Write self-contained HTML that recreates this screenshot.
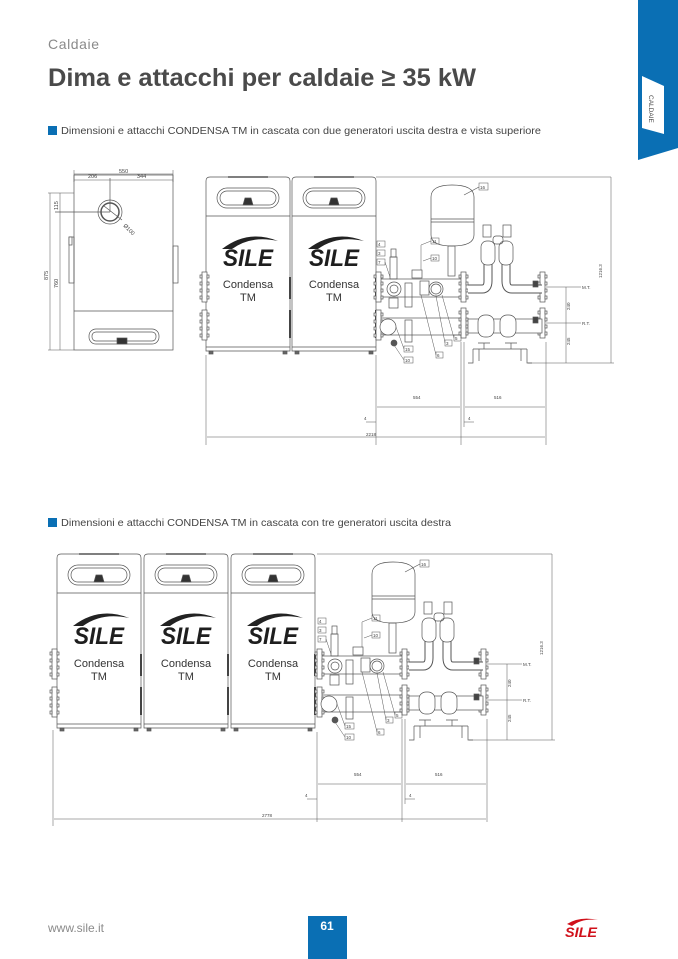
<!DOCTYPE html>
<html><head><meta charset="utf-8"><style>
html,body{margin:0;padding:0;background:#fff;}
svg{display:block;font-family:"Liberation Sans",sans-serif;}
</style></head><body>
<svg width="678" height="959" viewBox="0 0 678 959" xmlns="http://www.w3.org/2000/svg">
<defs>
<g id="boiler" fill="none" stroke="#555" stroke-width="0.7">
  <path d="M0,4 Q0,0 4,0 L80,0 Q84,0 84,4 L84,174 L0,174 Z" fill="#fff"/>
  <line x1="0" y1="39" x2="84" y2="39"/>
  <line x1="0" y1="170" x2="84" y2="170"/>
  <rect x="11" y="11" width="62" height="20" rx="10"/>
  <rect x="14" y="14" width="56" height="14" rx="7"/>
  <path d="M37,28 L39,21 L45,21 L47,28 Z" fill="#333"/>
  <line x1="22" y1="0" x2="62" y2="0" stroke-width="1.5"/>
  <rect x="3" y="174" width="4" height="3" fill="#666"/>
  <rect x="77" y="174" width="4" height="3" fill="#666"/>
  <path d="M16,72 Q42,52 72,64 Q45,58 26,72 Z" fill="#222" stroke="none"/>
  <rect x="83" y="100" width="2" height="22" fill="#444" stroke="none"/>
  <rect x="83" y="133" width="2" height="28" fill="#444" stroke="none"/>
</g>
<g id="flange" fill="#fff" stroke="#555" stroke-width="0.7">
  <rect x="0" y="0" width="5" height="30"/>
  <rect x="-2" y="3" width="2" height="3"/><rect x="-2" y="10" width="2" height="3"/><rect x="-2" y="17" width="2" height="3"/><rect x="-2" y="24" width="2" height="3"/>
  <rect x="5" y="3" width="2" height="3"/><rect x="5" y="10" width="2" height="3"/><rect x="5" y="17" width="2" height="3"/><rect x="5" y="24" width="2" height="3"/>
</g>
<g id="manifold" fill="none" stroke="#555" stroke-width="0.7">
  <path d="M55,20 Q55,8 76,8 Q98,8 98,20 L98,58 Q98,69 76,69 Q55,69 55,58 Z" fill="#fff"/>
  <line x1="55" y1="42" x2="98" y2="42"/><line x1="55" y1="45" x2="98" y2="45"/>
  <rect x="72" y="69" width="7" height="30"/>
  <line x1="88" y1="18" x2="103" y2="10"/>
  <rect x="4" y="102" width="82" height="18" fill="#fff"/>
  <rect x="4" y="141" width="82" height="17" fill="#fff"/>
  <use href="#flange" x="0" y="95"/><use href="#flange" x="0" y="133"/>
  <use href="#flange" x="85" y="95"/><use href="#flange" x="85" y="131"/>
  <use href="#flange" x="164" y="95"/><use href="#flange" x="164" y="131"/>
  <rect x="14" y="80" width="7" height="22"/>
  <rect x="15" y="72" width="5" height="8"/>
  <circle cx="18" cy="112" r="7" fill="#fff"/><circle cx="18" cy="112" r="4"/>
  <rect x="13" y="121" width="9" height="10"/>
  <circle cx="12" cy="150" r="8" fill="#fff"/>
  <circle cx="18" cy="166" r="3" fill="#555"/>
  <rect x="29" y="106" width="7" height="24"/><rect x="29" y="143" width="7" height="22"/>
  <rect x="44" y="104" width="9" height="14" fill="#fff"/>
  <rect x="36" y="93" width="10" height="8"/>
  <circle cx="60" cy="112" r="7" fill="#fff"/><circle cx="60" cy="112" r="5"/>
  <path d="M92,112 L106,112 Q112,112 112,104 L112,80" stroke-width="9" stroke="#555"/>
  <path d="M92,112 L106,112 Q112,112 112,104 L112,80" stroke-width="7" stroke="#fff"/>
  <path d="M166,112 L136,112 Q130,112 130,104 L130,80" stroke-width="9" stroke="#555"/>
  <path d="M166,112 L136,112 Q130,112 130,104 L130,80" stroke-width="7" stroke="#fff"/>
  <rect x="105" y="64" width="14" height="24" rx="6" fill="#fff"/>
  <rect x="123" y="64" width="14" height="24" rx="6" fill="#fff"/>
  <rect x="107" y="48" width="8" height="12" fill="#fff"/><rect x="127" y="48" width="8" height="12" fill="#fff"/>
  <rect x="117" y="59" width="10" height="8" rx="3"/>
  <rect x="92" y="142" width="74" height="14" fill="#fff"/>
  <rect x="102" y="138" width="16" height="22" rx="7" fill="#fff"/>
  <rect x="124" y="138" width="16" height="22" rx="7" fill="#fff"/>
  <path d="M97,172 L151,172 M97,172 L97,186 L92,186 M151,172 L151,186 L156,186 M103,172 L103,184 M145,172 L145,184"/>
  <path d="M108,166 L108,172 M135,166 L135,172 M102,166 L114,166 M129,166 L141,166"/>
  <rect x="157" y="104" width="5" height="6" fill="#444"/><rect x="157" y="140" width="5" height="6" fill="#444"/>
  <g stroke-width="0.5">
  <rect x="103" y="6" width="9" height="7"/>
  <rect x="1" y="64" width="8" height="6"/><rect x="1" y="73" width="8" height="6"/><rect x="1" y="82" width="8" height="6"/>
  <rect x="55" y="61" width="8" height="6"/><rect x="55" y="78" width="8" height="6"/>
  <rect x="28" y="169" width="9" height="6"/><rect x="28" y="180" width="9" height="6"/>
  <rect x="60" y="175" width="7" height="6"/><rect x="69" y="163" width="7" height="6"/><rect x="78" y="158" width="7" height="6"/>
  <path d="M55,64 L45,68 L45,93 M55,81 L47,84 M9,85 L14,100 M28,172 L20,150 M28,183 L18,168 M60,178 L45,118 M69,166 L60,119 M78,161 L66,118"/>
  </g>
  <g stroke-width="0.5">
  <line x1="0" y1="0" x2="235" y2="0"/>
  <line x1="235" y1="0" x2="235" y2="186"/>
  <line x1="152" y1="186" x2="238" y2="186"/>
  <line x1="170" y1="110" x2="205" y2="110"/><line x1="170" y1="146" x2="205" y2="146"/>
  <line x1="190" y1="110" x2="190" y2="186"/>
  <line x1="0" y1="178" x2="0" y2="268"/>
  <line x1="85" y1="165" x2="85" y2="268"/><line x1="88" y1="165" x2="88" y2="250"/>
  <line x1="170" y1="165" x2="170" y2="268"/>
  <line x1="1" y1="230" x2="84" y2="230"/><line x1="89" y1="230" x2="169" y2="230"/>
  <line x1="-10" y1="245" x2="0" y2="245"/><line x1="88" y1="245" x2="98" y2="245"/>
  </g>
</g>
</defs>

<text x="48" y="49" font-size="14" fill="#8a8a8a" textLength="51">Caldaie</text>
<text x="48" y="86" font-size="25" font-weight="bold" fill="#4a4a4a" textLength="428" lengthAdjust="spacingAndGlyphs">Dima e attacchi per caldaie ≥ 35 kW</text>
<path d="M638,0 L678,0 L678,148 L638,160 Z" fill="#0a6fb4"/>
<path d="M642,76 L664,86 L664,134 L642,128 Z" fill="#fff"/>
<text x="649" y="95" font-size="6.5" fill="#444" transform="rotate(90 649 95)">CALDAIE</text>

<rect x="48" y="126" width="9" height="9" fill="#0a6fb4"/>
<text x="61" y="134" font-size="10.5" fill="#444" textLength="480" lengthAdjust="spacingAndGlyphs">Dimensioni e attacchi CONDENSA TM in cascata con due generatori uscita destra e vista superiore</text>
<rect x="48" y="518" width="9" height="9" fill="#0a6fb4"/>
<text x="61" y="526" font-size="10.5" fill="#444" textLength="390" lengthAdjust="spacingAndGlyphs">Dimensioni e attacchi CONDENSA TM in cascata con tre generatori uscita destra</text>

<g fill="none" stroke="#555" stroke-width="0.7">
  <rect x="74" y="175" width="99" height="175" fill="#fff"/>
  <line x1="74" y1="311" x2="173" y2="311"/>
  <rect x="89" y="329" width="70" height="15" rx="7"/>
  <rect x="92" y="332" width="64" height="9" rx="4"/>
  <rect x="117" y="338" width="10" height="6" fill="#333"/>
  <circle cx="110" cy="212" r="12"/><circle cx="110" cy="212" r="9" stroke-width="1.5"/>
  <line x1="110" y1="178" x2="110" y2="212"/><line x1="55" y1="212" x2="110" y2="212"/>
  <line x1="104" y1="206" x2="122" y2="220"/>
  <rect x="69" y="237" width="5" height="46"/><rect x="173" y="246" width="5" height="37"/>
  <rect x="69" y="237" width="3" height="8" fill="#fff"/>
  <g stroke-width="0.5">
  <line x1="74" y1="174" x2="173" y2="174"/><line x1="74" y1="180" x2="173" y2="180"/>
  <line x1="74" y1="170" x2="74" y2="182"/><line x1="173" y1="170" x2="173" y2="182"/>
  <line x1="48" y1="193" x2="74" y2="193"/><line x1="48" y1="350" x2="74" y2="350"/>
  <line x1="50" y1="193" x2="50" y2="350"/><line x1="60" y1="193" x2="60" y2="350"/>
  </g>
</g>
<g font-size="5.5" fill="#444">
  <text x="119" y="173">550</text><text x="88" y="178">206</text><text x="137" y="178">344</text>
  <text x="123" y="226" transform="rotate(45 123 226)">Ø100</text>
  <text x="58" y="210" transform="rotate(-90 58 210)">115</text>
  <text x="48" y="280" transform="rotate(-90 48 280)">875</text>
  <text x="58" y="288" transform="rotate(-90 58 288)">760</text>
</g>

<use href="#boiler" x="206" y="177"/>
<use href="#boiler" x="292" y="177"/>
<use href="#flange" x="202" y="272"/><use href="#flange" x="202" y="310"/>
<use href="#manifold" x="376" y="177"/>
<g fill="none" stroke="#555" stroke-width="0.5"><line x1="206" y1="355" x2="206" y2="445"/><line x1="207" y1="437" x2="545" y2="437"/></g>
<g font-size="11" fill="#333" text-anchor="middle">
  <text x="248" y="288">Condensa</text><text x="248" y="301">TM</text>
  <text x="334" y="288">Condensa</text><text x="334" y="301">TM</text>
</g>
<g font-size="24" font-weight="bold" font-style="italic" fill="#1e1e1e" text-anchor="middle">
  <text x="248" y="266" textLength="50" lengthAdjust="spacingAndGlyphs">SILE</text>
  <text x="334" y="266" textLength="50" lengthAdjust="spacingAndGlyphs">SILE</text>
</g>
<g font-size="4.5" fill="#444">
  <text x="480" y="189">16</text><text x="378" y="246">4</text><text x="378" y="255">3</text><text x="378" y="264">7</text>
  <text x="432" y="243">11</text><text x="432" y="260">10</text>
  <text x="405" y="351">15</text><text x="405" y="362">10</text><text x="437" y="357">6</text><text x="446" y="345">3</text><text x="455" y="340">5</text>
  <text x="582" y="289">M.T.</text><text x="582" y="325">R.T.</text>
  <text x="413" y="399">554</text><text x="494" y="399">516</text>
  <text x="364" y="420">4</text><text x="468" y="420">4</text>
  <text x="366" y="436">2218</text>
  <text x="570" y="310" transform="rotate(-90 570 310)">240</text>
  <text x="570" y="345" transform="rotate(-90 570 345)">245</text>
  <text x="602" y="278" transform="rotate(-90 602 278)">1216.3</text>
</g>

<use href="#boiler" x="57" y="554"/>
<use href="#boiler" x="144" y="554"/>
<use href="#boiler" x="231" y="554"/>
<use href="#flange" x="52" y="649"/><use href="#flange" x="52" y="687"/>
<use href="#manifold" x="317" y="554"/>
<g fill="none" stroke="#555" stroke-width="0.5"><line x1="53" y1="730" x2="53" y2="826"/><line x1="54" y1="819" x2="486" y2="819"/></g>
<g font-size="11" fill="#333" text-anchor="middle">
  <text x="99" y="667">Condensa</text><text x="99" y="680">TM</text>
  <text x="186" y="667">Condensa</text><text x="186" y="680">TM</text>
  <text x="273" y="667">Condensa</text><text x="273" y="680">TM</text>
</g>
<g font-size="24" font-weight="bold" font-style="italic" fill="#1e1e1e" text-anchor="middle">
  <text x="99" y="644" textLength="50" lengthAdjust="spacingAndGlyphs">SILE</text>
  <text x="186" y="644" textLength="50" lengthAdjust="spacingAndGlyphs">SILE</text>
  <text x="273" y="644" textLength="50" lengthAdjust="spacingAndGlyphs">SILE</text>
</g>
<g font-size="4.5" fill="#444">
  <text x="421" y="566">16</text><text x="319" y="623">4</text><text x="319" y="632">3</text><text x="319" y="641">7</text>
  <text x="373" y="620">11</text><text x="373" y="637">10</text>
  <text x="346" y="728">15</text><text x="346" y="739">10</text><text x="378" y="734">6</text><text x="387" y="722">3</text><text x="396" y="717">5</text>
  <text x="523" y="666">M.T.</text><text x="523" y="702">R.T.</text>
  <text x="354" y="776">554</text><text x="435" y="776">516</text>
  <text x="305" y="797">4</text><text x="409" y="797">4</text>
  <text x="262" y="817">2778</text>
  <text x="511" y="687" transform="rotate(-90 511 687)">240</text>
  <text x="511" y="722" transform="rotate(-90 511 722)">245</text>
  <text x="543" y="655" transform="rotate(-90 543 655)">1216.3</text>
</g>

<text x="48" y="932" font-size="12" fill="#8a8a8a">www.sile.it</text>
<rect x="308" y="916" width="39" height="43" fill="#0a6fb4"/>
<text x="327" y="930" font-size="12" font-weight="bold" fill="#fff" text-anchor="middle">61</text>
<path d="M567,924 Q580,916 598,920 Q582,918 572,926 Z" fill="#d0101a"/>
<text x="581" y="937" font-size="14" font-weight="bold" font-style="italic" fill="#d0101a" text-anchor="middle" textLength="32" lengthAdjust="spacingAndGlyphs">SILE</text>
</svg>
</body></html>
